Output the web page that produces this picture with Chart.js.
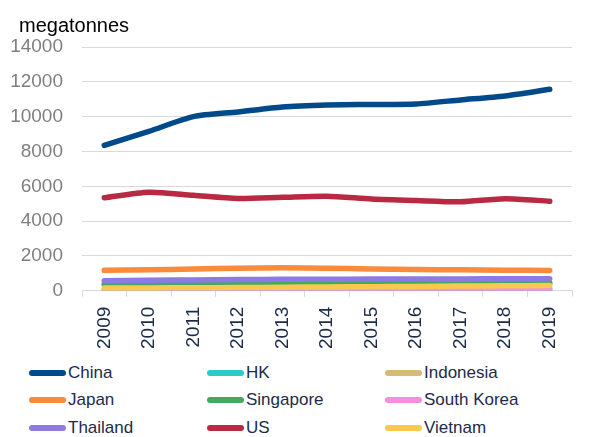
<!DOCTYPE html>
<html>
<head>
<meta charset="utf-8">
<script src="https://cdn.jsdelivr.net/npm/chart.js@4"></script>
<style>
  html, body { margin: 0; padding: 0; background: #fff; }
  #wrap { position: relative; width: 606px; height: 437px; overflow: hidden; font-family: "Liberation Sans", Arial, sans-serif; }
  #title { position: absolute; left: 19px; top: 13px; font-size: 20px; line-height: 24px; color: #000; }
  #cv { position: absolute; left: 0; top: 0; }
  .lg { position: absolute; height: 24px; display: flex; align-items: center; font-size: 17px; color: #1c2b4a; white-space: nowrap; }
  .lg .sw { width: 37px; height: 6px; border-radius: 3px; margin-right: 2px; }
</style>
</head>
<body>
<div id="wrap">
  <canvas id="cv" width="606" height="359"></canvas>
  <div id="title">megatonnes</div>
</div>
<script>
const years = ["2009","2010","2011","2012","2013","2014","2015","2016","2017","2018","2019"];
const seriesNames = ["China","HK","Indonesia","Japan","Singapore","South Korea","Thailand","US","Vietnam"];
const china      = [8350, 9150, 10000, 10270, 10560, 10670, 10700, 10730, 10960, 11190, 11570];
const hk         = [40, 40, 42, 42, 42, 41, 40, 40, 40, 40, 40];
const indonesia  = [370, 390, 400, 410, 420, 425, 430, 430, 432, 435, 438];
const japan      = [1170, 1200, 1250, 1290, 1320, 1290, 1250, 1220, 1200, 1180, 1160];
const singapore  = [380, 400, 410, 420, 430, 440, 440, 440, 440, 440, 440];
const southKorea = [50, 55, 55, 60, 60, 65, 70, 80, 90, 110, 130];
const thailand   = [570, 600, 620, 640, 660, 660, 670, 670, 680, 690, 690];
const us         = [5340, 5660, 5480, 5300, 5370, 5430, 5270, 5180, 5110, 5290, 5140];
const vietnam    = [150, 160, 170, 180, 200, 220, 230, 250, 270, 280, 300];
const yTicks     = [0, 2000, 4000, 6000, 8000, 10000, 12000, 14000];

const seriesValues = [china, hk, indonesia, japan, singapore, southKorea, thailand, us, vietnam];
const colors = ["#004a8a", "#2ccbcb", "#d6bb78", "#f98b3a", "#43a860", "#f48fe2", "#8e7ae2", "#b92a42", "#f9c94f"];

const datasets = seriesNames.map((name, i) => ({
  label: name,
  data: seriesValues[i],
  borderColor: colors[i],
  backgroundColor: colors[i],
  borderWidth: 5.5,
  pointRadius: 0,
  tension: 0.25,
  borderCapStyle: 'round',
  borderJoinStyle: 'round',
  fill: false,
  order: seriesNames.length - i
}));

new Chart(document.getElementById('cv'), {
  type: 'line',
  data: { labels: years, datasets },
  options: {
    responsive: false,
    animation: false,
    layout: { padding: { left: 10, right: 34, top: 47, bottom: 0 } },
    plugins: { legend: { display: false }, tooltip: { enabled: false }, title: { display: false } },
    scales: {
      x: {
        type: 'category',
        offset: true,
        grid: { display: true, offset: true, drawOnChartArea: false, drawTicks: true, tickLength: 6, color: '#d9d9d9' },
        border: { display: true, color: '#d9d9d9' },
        ticks: { minRotation: 90, maxRotation: 90, padding: 10, color: '#1c2b4a', font: { family: '"Liberation Sans", Arial, sans-serif', size: 19 } }
      },
      y: {
        min: 0, max: 14000,
        afterBuildTicks: (axis) => { axis.ticks = yTicks.map(v => ({ value: v })); },
        afterFit: (axis) => { axis.width = 72; },
        grid: { color: '#d9d9d9', lineWidth: 1, drawTicks: false },
        border: { display: false },
        ticks: { padding: 19, color: '#7f7f7f', font: { family: '"Liberation Sans", Arial, sans-serif', size: 19 }, callback: (v) => String(v) }
      }
    }
  }
});

const cols = [29, 207, 385];
const rows = [361, 388, 416];
const wrap = document.getElementById('wrap');
seriesNames.forEach((name, i) => {
  const d = document.createElement('div');
  d.className = 'lg';
  d.style.left = cols[i % 3] + 'px';
  d.style.top = rows[Math.floor(i / 3)] + 'px';
  const sw = document.createElement('span');
  sw.className = 'sw';
  sw.style.background = colors[i];
  const t = document.createElement('span');
  t.textContent = name;
  d.appendChild(sw); d.appendChild(t);
  wrap.appendChild(d);
});
</script>
</body>
</html>
